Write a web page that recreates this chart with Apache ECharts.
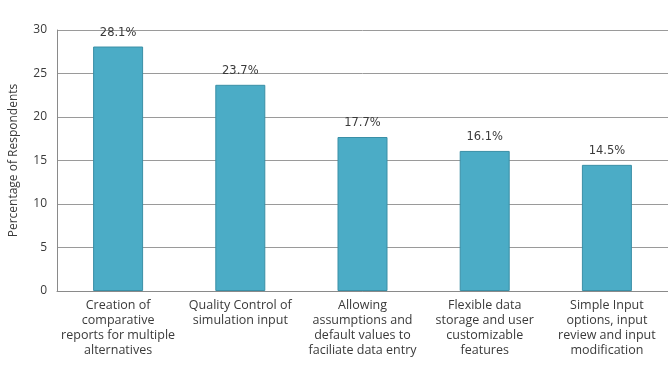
<!DOCTYPE html>
<html>
<head>
<meta charset="utf-8">
<script src="https://cdn.jsdelivr.net/npm/echarts@6/dist/echarts.min.js"></script>
<style>
  html, body { margin: 0; padding: 0; background: #fff; }
  #chart { width: 668px; height: 379px; }
</style>
</head>
<body>
<div id="chart"></div>
<script>
// Survey results: share of respondents per desired feature
const categories = [
  'Creation of\ncomparative\nreports for multiple\nalternatives',
  'Quality Control of\nsimulation input',
  'Allowing\nassumptions and\ndefault values to\nfaciliate data entry',
  'Flexible data\nstorage and user\ncustomizable\nfeatures',
  'Simple Input\noptions, input\nreview and input\nmodification'
];
const percentages = [28.1, 23.7, 17.7, 16.1, 14.5];
const yTicks = { min: 0, max: 30, interval: 5 };

const chart = echarts.init(document.getElementById('chart'), null, { renderer: 'canvas' });
chart.setOption({
  animation: false,
  backgroundColor: '#ffffff',
  grid: { left: 55, right: -7, top: 30, bottom: 88 },
  xAxis: {
    type: 'category',
    data: categories,
    axisLine: { lineStyle: { color: '#8a8a8a', width: 1 } },
    axisTick: { show: false },
    axisLabel: {
      interval: 0,
      margin: 7,
      lineHeight: 15,
      fontSize: 12.5,
      fontFamily: 'Open Sans',
      color: '#3a3a3a',
      align: 'center'
    }
  },
  yAxis: {
    type: 'value',
    min: yTicks.min,
    max: yTicks.max,
    interval: yTicks.interval,
    name: 'Percentage of Respondents',
    nameLocation: 'middle',
    nameGap: 37,
    nameRotate: 90,
    nameTextStyle: { fontSize: 12, fontFamily: 'Open Sans', color: '#3a3a3a' },
    axisLine: { show: true, lineStyle: { color: '#8a8a8a', width: 1 } },
    axisTick: { show: false },
    axisLabel: { fontSize: 12, fontFamily: 'Open Sans', color: '#3a3a3a', margin: 10 },
    splitLine: { lineStyle: { color: '#9a9a9a', width: 1 } }
  },
  series: [{
    type: 'bar',
    data: percentages,
    barWidth: 50,
    itemStyle: { color: '#4bacc6', borderColor: '#3a8fa6', borderWidth: 1 },
    label: {
      show: true,
      position: 'top',
      distance: 8,
      formatter: p => p.value.toFixed(1) + '%',
      fontSize: 11.5,
      fontFamily: 'DejaVu Sans',
      color: '#3a3a3a'
    }
  }]
});
</script>
</body>
</html>
